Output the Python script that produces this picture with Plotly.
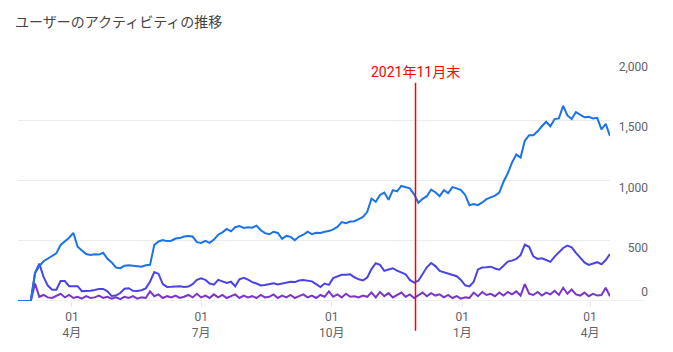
import pandas as pd
import plotly.graph_objects as go

start_date = "2021-02-22"
step_days = 3

total_users = [
    0, 0, 0, 0, 230, 290, 330, 350, 370, 395,
    465, 495, 525, 565, 450, 420, 390, 381, 387, 385,
    400, 350, 320, 278, 272, 292, 296, 292, 288, 284,
    296, 300, 465, 494, 505, 497, 500, 518, 522, 535,
    540, 535, 488, 482, 500, 483, 510, 550, 570, 598,
    578, 612, 622, 606, 612, 608, 625, 587, 563, 554,
    575, 565, 515, 540, 532, 505, 535, 550, 575, 555,
    566, 565, 575, 580, 595, 615, 655, 645, 660, 662,
    680, 697, 740, 850, 823, 880, 900, 840, 920, 910,
    955, 946, 935, 885, 815, 848, 870, 925, 903, 870,
    920, 895, 945, 935, 920, 880, 795, 805, 795, 818,
    845, 860, 875, 900, 990, 1060, 1150, 1215, 1190, 1330,
    1375, 1375, 1408, 1450, 1488, 1450, 1510, 1515, 1620, 1540,
    1510, 1568, 1545, 1525, 1528, 1515, 1520, 1425, 1470, 1370,
]

active_users = [
    0, 0, 0, 0, 235, 310, 200, 128, 93, 93,
    165, 165, 123, 126, 123, 82, 82, 85, 92, 100,
    100, 80, 41, 45, 66, 102, 106, 85, 84, 90,
    105, 160, 240, 225, 140, 117, 118, 123, 123, 117,
    120, 140, 175, 188, 175, 145, 135, 175, 165, 150,
    160, 122, 180, 193, 178, 157, 145, 129, 132, 140,
    148, 137, 143, 155, 160, 157, 170, 175, 171, 163,
    140, 116, 145, 134, 190, 203, 217, 217, 221, 197,
    180, 171, 195, 265, 313, 300, 250, 262, 272, 252,
    234, 222, 175, 152, 168, 230, 280, 315, 290, 250,
    238, 229, 218, 206, 175, 130, 121, 160, 262, 278,
    280, 285, 270, 260, 292, 327, 335, 350, 380, 467,
    450, 370, 349, 354, 340, 325, 368, 405, 440, 460,
    445, 400, 358, 320, 299, 310, 322, 305, 340, 390,
]

new_users = [
    0, 0, 0, 0, 145, 35, 50, 30, 25, 45,
    60, 30, 50, 25, 35, 20, 40, 25, 30, 45,
    25, 35, 20, 30, 15, 35, 25, 40, 20, 30,
    25, 80, 40, 55, 25, 40, 30, 45, 25, 35,
    50, 30, 60, 30, 45, 25, 55, 30, 50, 25,
    40, 55, 25, 45, 30, 40, 25, 50, 30, 35,
    55, 25, 45, 30, 50, 25, 40, 55, 30, 45,
    25, 50, 35, 80, 35, 55, 30, 60, 35, 40,
    30, 45, 35, 70, 30, 75, 40, 65, 30, 50,
    70, 35, 55, 25, 45, 70, 40, 65, 45, 55,
    30, 50, 25, 40, 20, 30, 25, 70, 40, 75,
    50, 60, 40, 70, 45, 75, 55, 80, 45, 140,
    60, 50, 75, 45, 70, 55, 85, 50, 110, 60,
    95, 55, 45, 70, 40, 60, 45, 50, 110, 40,
]

tick_dates = ["2021-04-01", "2021-07-01", "2021-10-01", "2022-01-01", "2022-04-01"]
tick_labels = ["01<br>4月", "01<br>7月", "01<br>10月", "01<br>1月", "01<br>4月"]
y_ticks_upper = [500, 1000, 1500, 2000]
y_ticks_zero = [0]

marker_date = "2021-11-29"
marker_text = "2021年11月末"
title_text = "ユーザーのアクティビティの推移"

dates = pd.date_range(start_date, periods=len(total_users), freq=f"{step_days}D")

W, H = 673, 352
plot_left, plot_right, plot_top, plot_bottom = 18, 610, 60, 303
m_l, m_r = 18, 25
paper_w = W - m_l - m_r
x_dom_end = (plot_right - plot_left) / paper_w
plot_h = plot_bottom - plot_top

fig = go.Figure()
series = [
    (new_users, "#7a35cc"),
    (active_users, "#4a44e4"),
    (total_users, "#1a73e8"),
]
for vals, col in series:
    fig.add_trace(go.Scatter(x=dates, y=vals, mode="lines",
                             line=dict(color=col, width=2), hoverinfo="skip",
                             showlegend=False))
# invisible trace to activate the secondary axis used for the zero label
fig.add_trace(go.Scatter(x=[dates[0]], y=[0], yaxis="y2", mode="markers",
                         marker=dict(opacity=0), hoverinfo="skip", showlegend=False))

tick_font = dict(size=12, color="#5f6368")
fig.update_layout(
    width=W, height=H,
    margin=dict(l=m_l, r=m_r, t=plot_top, b=H - plot_bottom),
    paper_bgcolor="white", plot_bgcolor="white",
    font=dict(family="Roboto, 'Noto Sans CJK JP', sans-serif", color="#5f6368", size=12),
    xaxis=dict(
        type="date", domain=[0, x_dom_end],
        range=["2021-02-22", "2022-04-15"],
        tickvals=tick_dates, ticktext=tick_labels,
        ticks="outside", ticklen=5, tickcolor="#e6e6e6",
        showgrid=False, showline=False, zeroline=False,
        tickfont=tick_font,
    ),
    yaxis=dict(
        range=[0, 2000], tickvals=y_ticks_upper, tickformat=",",
        anchor="free", position=1.0, side="left",
        showgrid=True, gridcolor="#ebebeb", gridwidth=1,
        zeroline=False, showline=False, ticks="",
        ticklabelshift=7,
        tickfont=tick_font,
    ),
    yaxis2=dict(
        range=[0, 2000], tickvals=y_ticks_zero, overlaying="y",
        anchor="free", position=1.0, side="left",
        showgrid=False, zeroline=False, showline=False, ticks="",
        ticklabelshift=-9,
        tickfont=tick_font,
    ),
    shapes=[
        dict(type="line", xref="paper", yref="y", x0=0, x1=(643 - m_l) / paper_w,
             y0=0, y1=0, line=dict(color="#e3e3e3", width=1), layer="below"),
        dict(type="line", xref="x", yref="paper", x0=marker_date, x1=marker_date,
             y0=-(333 - plot_bottom) / plot_h, y1=(plot_bottom - 83) / plot_h,
             line=dict(color="rgb(255,0,0)", width=1.5), opacity=1, layer="above"),
    ],
    annotations=[
        dict(x=marker_date, xref="x", y=(plot_bottom - 72) / plot_h, yref="paper",
             text=marker_text, showarrow=False, xanchor="center", yanchor="middle",
             font=dict(color="#ff0000", size=14,
                       family="Roboto, 'Noto Sans CJK JP', sans-serif")),
        dict(x=(13 - m_l) / paper_w, xref="paper", y=(plot_bottom - 21) / plot_h,
             yref="paper", text=title_text,
             showarrow=False, xanchor="left", yanchor="middle",
             font=dict(color="#444444", size=14, family="'Noto Sans CJK JP', sans-serif")),
    ],
)

fig.write_html("out.html")
